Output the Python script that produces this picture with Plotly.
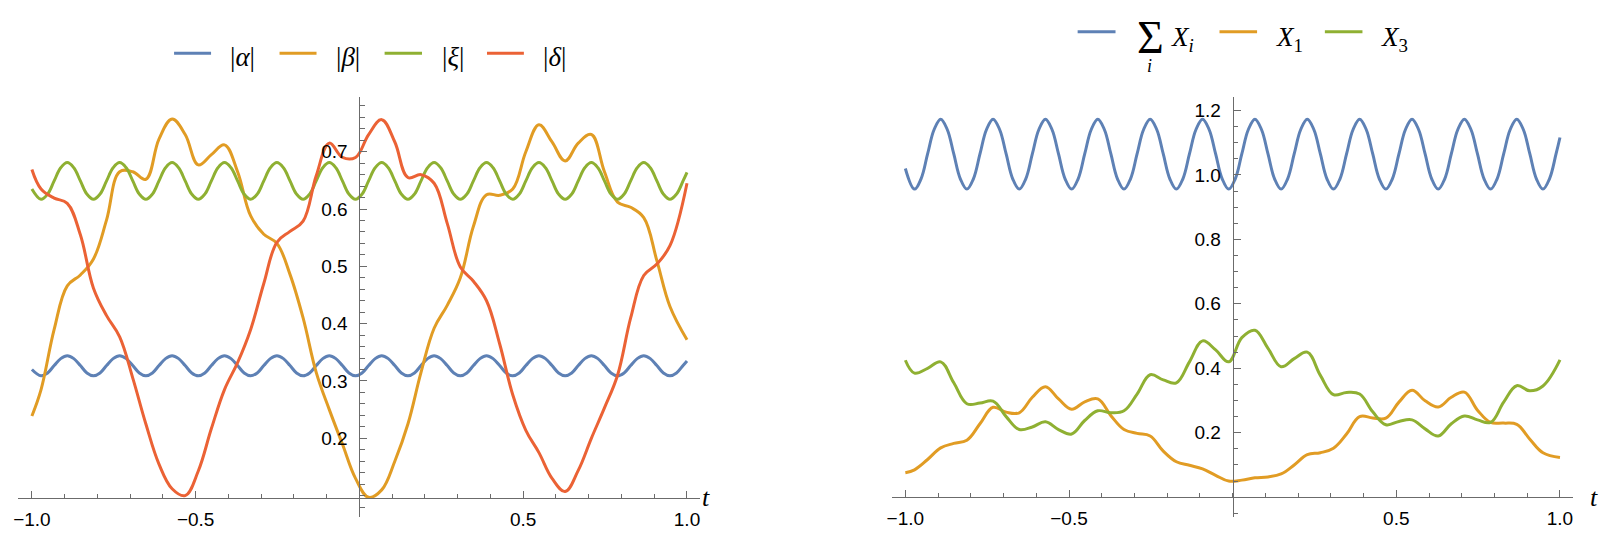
import plotly.graph_objects as go

# ---------------- data ----------------
# coarse grid for the irregular curves
t = [-1.0, -0.972, -0.932, -0.892, -0.852, -0.812, -0.772, -0.732, -0.692, -0.652,
     -0.612, -0.572, -0.532, -0.492, -0.452, -0.412, -0.372, -0.332, -0.292, -0.252,
     -0.212, -0.172, -0.132, -0.092, -0.052, -0.012, 0.028, 0.068, 0.108, 0.148,
     0.188, 0.228, 0.268, 0.308, 0.348, 0.388, 0.428, 0.468, 0.508, 0.548,
     0.588, 0.628, 0.668, 0.708, 0.748, 0.788, 0.828, 0.868, 0.908, 0.948, 1.0]

# finer grid for the regular oscillating curves
t_fine = [-1.0,
          -0.972, -0.952, -0.932, -0.912, -0.892, -0.872, -0.852, -0.832,
          -0.812, -0.792, -0.772, -0.752, -0.732, -0.712, -0.692, -0.672,
          -0.652, -0.632, -0.612, -0.592, -0.572, -0.552, -0.532, -0.512,
          -0.492, -0.472, -0.452, -0.432, -0.412, -0.392, -0.372, -0.352,
          -0.332, -0.312, -0.292, -0.272, -0.252, -0.232, -0.212, -0.192,
          -0.172, -0.152, -0.132, -0.112, -0.092, -0.072, -0.052, -0.032,
          -0.012, 0.008, 0.028, 0.048, 0.068, 0.088, 0.108, 0.128,
          0.148, 0.168, 0.188, 0.208, 0.228, 0.248, 0.268, 0.288,
          0.308, 0.328, 0.348, 0.368, 0.388, 0.408, 0.428, 0.448,
          0.468, 0.488, 0.508, 0.528, 0.548, 0.568, 0.588, 0.608,
          0.628, 0.648, 0.668, 0.688, 0.708, 0.728, 0.748, 0.768,
          0.788, 0.808, 0.828, 0.848, 0.868, 0.888, 0.908, 0.928,
          0.948, 0.968, 0.988,
          1.0]

alpha_abs = [0.320,
             0.309, 0.314, 0.327, 0.339, 0.344, 0.339, 0.327, 0.314,
             0.309, 0.314, 0.327, 0.339, 0.344, 0.339, 0.327, 0.314,
             0.309, 0.314, 0.327, 0.339, 0.344, 0.339, 0.327, 0.314,
             0.309, 0.314, 0.327, 0.339, 0.344, 0.339, 0.327, 0.314,
             0.309, 0.314, 0.327, 0.339, 0.344, 0.339, 0.327, 0.314,
             0.309, 0.314, 0.327, 0.339, 0.344, 0.339, 0.327, 0.314,
             0.309, 0.314, 0.327, 0.339, 0.344, 0.339, 0.327, 0.314,
             0.309, 0.314, 0.327, 0.339, 0.344, 0.339, 0.327, 0.314,
             0.309, 0.314, 0.327, 0.339, 0.344, 0.339, 0.327, 0.314,
             0.309, 0.314, 0.327, 0.339, 0.344, 0.339, 0.327, 0.314,
             0.309, 0.314, 0.327, 0.339, 0.344, 0.339, 0.327, 0.314,
             0.309, 0.314, 0.327, 0.339, 0.344, 0.339, 0.327, 0.314,
             0.309, 0.314, 0.327,
             0.335]

xi_abs = [0.635,
          0.617, 0.626, 0.649, 0.672, 0.681, 0.672, 0.649, 0.626,
          0.617, 0.626, 0.649, 0.672, 0.681, 0.672, 0.649, 0.626,
          0.617, 0.626, 0.649, 0.672, 0.681, 0.672, 0.649, 0.626,
          0.617, 0.626, 0.649, 0.672, 0.681, 0.672, 0.649, 0.626,
          0.617, 0.626, 0.649, 0.672, 0.681, 0.672, 0.649, 0.626,
          0.617, 0.626, 0.649, 0.672, 0.681, 0.672, 0.649, 0.626,
          0.617, 0.626, 0.649, 0.672, 0.681, 0.672, 0.649, 0.626,
          0.617, 0.626, 0.649, 0.672, 0.681, 0.672, 0.649, 0.626,
          0.617, 0.626, 0.649, 0.672, 0.681, 0.672, 0.649, 0.626,
          0.617, 0.626, 0.649, 0.672, 0.681, 0.672, 0.649, 0.626,
          0.617, 0.626, 0.649, 0.672, 0.681, 0.672, 0.649, 0.626,
          0.617, 0.626, 0.649, 0.672, 0.681, 0.672, 0.649, 0.626,
          0.617, 0.626, 0.649,
          0.664]

sum_X = [1.020,
         0.956, 0.988, 1.065, 1.141, 1.173, 1.141, 1.065, 0.988,
         0.956, 0.988, 1.065, 1.141, 1.173, 1.141, 1.065, 0.988,
         0.956, 0.988, 1.065, 1.141, 1.173, 1.141, 1.065, 0.988,
         0.956, 0.988, 1.065, 1.141, 1.173, 1.141, 1.065, 0.988,
         0.956, 0.988, 1.065, 1.141, 1.173, 1.141, 1.065, 0.988,
         0.956, 0.988, 1.065, 1.141, 1.173, 1.141, 1.065, 0.988,
         0.956, 0.988, 1.065, 1.141, 1.173, 1.141, 1.065, 0.988,
         0.956, 0.988, 1.065, 1.141, 1.173, 1.141, 1.065, 0.988,
         0.956, 0.988, 1.065, 1.141, 1.173, 1.141, 1.065, 0.988,
         0.956, 0.988, 1.065, 1.141, 1.173, 1.141, 1.065, 0.988,
         0.956, 0.988, 1.065, 1.141, 1.173, 1.141, 1.065, 0.988,
         0.956, 0.988, 1.065, 1.141, 1.173, 1.141, 1.065, 0.988,
         0.956, 0.988, 1.065,
         1.116]

beta_abs = [0.239, 0.285, 0.390, 0.466, 0.485, 0.513, 0.581, 0.665, 0.665, 0.652,
            0.722, 0.757, 0.730, 0.677, 0.695, 0.712, 0.665, 0.588, 0.556, 0.540,
            0.486, 0.410, 0.315, 0.250, 0.190, 0.130, 0.097, 0.110, 0.160, 0.225,
            0.315, 0.392, 0.432, 0.480, 0.570, 0.625, 0.624, 0.635, 0.700, 0.747,
            0.717, 0.684, 0.715, 0.730, 0.665, 0.612, 0.603, 0.585, 0.510, 0.430, 0.372]

delta_abs = [0.669, 0.635, 0.619, 0.610, 0.555, 0.462, 0.414, 0.377, 0.305, 0.225,
             0.155, 0.112, 0.100, 0.143, 0.217, 0.285, 0.332, 0.390, 0.470, 0.542,
             0.561, 0.579, 0.658, 0.715, 0.690, 0.690, 0.730, 0.756, 0.717, 0.655,
             0.660, 0.645, 0.575, 0.499, 0.474, 0.440, 0.365, 0.276, 0.214, 0.175,
             0.130, 0.107, 0.144, 0.200, 0.253, 0.310, 0.410, 0.484, 0.504, 0.536, 0.645]

X1 = [0.076, 0.085, 0.117, 0.153, 0.167, 0.177, 0.228, 0.279, 0.264, 0.262,
      0.310, 0.343, 0.305, 0.273, 0.296, 0.305, 0.253, 0.210, 0.198, 0.190,
      0.143, 0.110, 0.099, 0.088, 0.068, 0.050, 0.053, 0.060, 0.063, 0.072,
      0.100, 0.132, 0.138, 0.152, 0.196, 0.250, 0.246, 0.245, 0.295, 0.332,
      0.299, 0.280, 0.310, 0.326, 0.270, 0.232, 0.230, 0.226, 0.180, 0.138, 0.123]

X3 = [0.425, 0.385, 0.400, 0.420, 0.355, 0.290, 0.292, 0.298, 0.250, 0.210,
      0.218, 0.234, 0.210, 0.196, 0.238, 0.268, 0.262, 0.268, 0.320, 0.380,
      0.364, 0.355, 0.420, 0.485, 0.457, 0.420, 0.495, 0.518, 0.462, 0.405,
      0.430, 0.450, 0.378, 0.318, 0.325, 0.320, 0.265, 0.225, 0.235, 0.240,
      0.212, 0.190, 0.228, 0.252, 0.240, 0.232, 0.295, 0.346, 0.330, 0.345, 0.426]

x_tickvals = [-1.0, -0.5, 0.5, 1.0]
x_ticktext = ["\u22121.0", "\u22120.5", "0.5", "1.0"]
left_y_tickvals = [0.2, 0.3, 0.4, 0.5, 0.6, 0.7]
left_y_ticktext = ["0.2", "0.3", "0.4", "0.5", "0.6", "0.7"]
right_y_tickvals = [0.2, 0.4, 0.6, 0.8, 1.0, 1.2]
right_y_ticktext = ["0.2", "0.4", "0.6", "0.8", "1.0", "1.2"]

left_names = ["|<i>\u03b1</i>|", "|<i>\u03b2</i>|", "|<i>\u03be</i>|", "|<i>\u03b4</i>|"]

# ---------------- styling / layout ----------------
W, H = 1602, 534
BLUE, ORANGE, GREEN, RED = "#5E81B5", "#E19C24", "#8FB032", "#EB6235"
AXC = "#6b6b6b"
LW = 3

XR = [-1.041, 1.041]
YR_L = [0.0618, 0.796]
YR_R = [-0.063, 1.2427]
DOM_Y = [0.0309, 0.8189]
DOM_XL = [13.5 / W, 697.6 / W]
DOM_XR = [889.7 / W, 1573.3 / W]


def frac(v, rng, dom):
    return dom[0] + (v - rng[0]) / (rng[1] - rng[0]) * (dom[1] - dom[0])


fig = go.Figure()

left_series = [(t_fine, alpha_abs, BLUE), (t, beta_abs, ORANGE),
               (t_fine, xi_abs, GREEN), (t, delta_abs, RED)]
for xs, ys, c in left_series:
    fig.add_trace(go.Scatter(x=xs, y=ys, mode="lines", xaxis="x", yaxis="y",
                             line=dict(color=c, width=LW, shape="spline", smoothing=1.1),
                             showlegend=False, hoverinfo="skip"))

right_series = [(t_fine, sum_X, BLUE), (t, X1, ORANGE), (t, X3, GREEN)]
for xs, ys, c in right_series:
    fig.add_trace(go.Scatter(x=xs, y=ys, mode="lines", xaxis="x2", yaxis="y2",
                             line=dict(color=c, width=LW, shape="spline", smoothing=1.1),
                             showlegend=False, hoverinfo="skip"))

tickfont = dict(family="Liberation Sans, Arial, sans-serif", size=19, color="black")


def xaxis_cfg(dom, ypos):
    return dict(domain=dom, range=XR, anchor="free", position=ypos,
                showline=True, linecolor=AXC, linewidth=1,
                ticks="inside", ticklen=7, tickwidth=1, tickcolor=AXC,
                tickmode="array", tickvals=x_tickvals, ticktext=x_ticktext,
                minor=dict(tickmode="linear", tick0=0, dtick=0.1, ticks="inside",
                           ticklen=4.5, tickwidth=1, tickcolor=AXC, showgrid=False),
                showgrid=False, zeroline=False, tickfont=tickfont,
                ticklabelstandoff=4, fixedrange=True)


def yaxis_cfg(rng, xpos, vals, text, mdt):
    return dict(domain=DOM_Y, range=rng, anchor="free", position=xpos,
                showline=True, linecolor=AXC, linewidth=1,
                ticks="inside", ticklen=7, tickwidth=1, tickcolor=AXC,
                tickmode="array", tickvals=vals, ticktext=text,
                minor=dict(tickmode="linear", tick0=0, dtick=mdt, ticks="inside",
                           ticklen=4.5, tickwidth=1, tickcolor=AXC, showgrid=False),
                showgrid=False, zeroline=False, tickfont=tickfont,
                ticklabelstandoff=8, fixedrange=True)


xpos_l = frac(0.0953, YR_L, DOM_Y)
xpos_r = frac(0.0, YR_R, DOM_Y)
ypos_l = frac(0.0, XR, DOM_XL)
ypos_r = frac(0.0, XR, DOM_XR)

fig.update_layout(
    width=W, height=H,
    margin=dict(l=0, r=0, t=0, b=0),
    paper_bgcolor="white", plot_bgcolor="white",
    xaxis=xaxis_cfg(DOM_XL, xpos_l),
    yaxis=yaxis_cfg(YR_L, ypos_l, left_y_tickvals, left_y_ticktext, 0.02),
    xaxis2=xaxis_cfg(DOM_XR, xpos_r),
    yaxis2=yaxis_cfg(YR_R, ypos_r, right_y_tickvals, right_y_ticktext, 0.05),
    showlegend=False,
)

serif = "Liberation Serif, Times New Roman, serif"
shapes = []
annotations = []


def px(x):
    return x / W


def py(y):
    return 1 - y / H


# left legend
left_leg = [(169.6, 206.7, 238.6, BLUE), (275.4, 312.5, 344.3, ORANGE),
            (380.8, 418.3, 449.4, GREEN), (483.5, 520.5, 550.8, RED)]
for (x0, x1, tx, c), name in zip(left_leg, left_names):
    shapes.append(dict(type="line", xref="paper", yref="paper", x0=px(x0), x1=px(x1),
                       y0=py(53.3), y1=py(53.3), line=dict(color=c, width=LW)))
    annotations.append(dict(xref="paper", yref="paper", x=px(tx), y=py(57), text=name,
                            showarrow=False, xanchor="center", yanchor="middle",
                            font=dict(family=serif, size=27, color="black")))

# right legend
right_leg = [(1076, 1114, BLUE), (1218.3, 1256, ORANGE), (1324, 1361.7, GREEN)]
for x0, x1, c in right_leg:
    shapes.append(dict(type="line", xref="paper", yref="paper", x0=px(x0), x1=px(x1),
                       y0=py(31.7), y1=py(31.7), line=dict(color=c, width=LW)))
annotations.append(dict(xref="paper", yref="paper", x=px(1149), y=py(37), text="\u03a3",
                        showarrow=False, xanchor="center", yanchor="middle",
                        font=dict(family=serif, size=46, color="black")))
annotations.append(dict(xref="paper", yref="paper", x=px(1148), y=py(66), text="<i>i</i>",
                        showarrow=False, xanchor="center", yanchor="middle",
                        font=dict(family=serif, size=18, color="black")))
for x0, txt in [(1168, "<i>X<sub>i</sub></i>"), (1273, "<i>X</i><sub>1</sub>"),
                (1378, "<i>X</i><sub>3</sub>")]:
    annotations.append(dict(xref="paper", yref="paper", x=px(x0), y=py(39), text=txt,
                            showarrow=False, xanchor="left", yanchor="middle",
                            font=dict(family=serif, size=27, color="black")))

# axis labels "t"
for tx in (703, 1594):
    annotations.append(dict(xref="paper", yref="paper", x=px(tx), y=py(497), text="<i>t</i>",
                            showarrow=False, xanchor="center", yanchor="middle",
                            font=dict(family=serif, size=26, color="black")))

fig.update_layout(shapes=shapes, annotations=annotations)
fig.write_html("out.html", config={"displayModeBar": False},
               post_script="document.body.style.margin='0px';document.body.style.overflow='hidden';")
